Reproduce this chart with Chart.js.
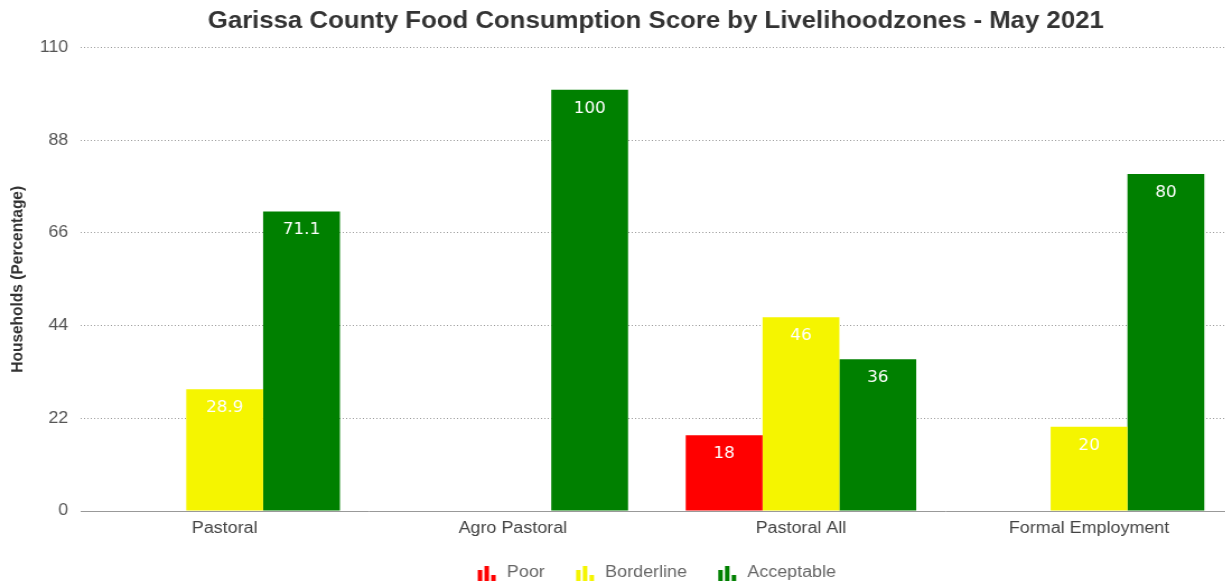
<!DOCTYPE html>
<html>
<head>
<meta charset="utf-8">
<script src="https://cdn.jsdelivr.net/npm/chart.js@4"></script>
<style>
  html, body { margin: 0; padding: 0; background: #fff; overflow: hidden; }
  #wrap {
    width: 1171px; height: 583px; position: relative;
    transform: scaleX(1.12); transform-origin: 0 0;
  }
</style>
</head>
<body>
<div id="wrap"><canvas id="c"></canvas></div>
<script>
// Food consumption score (% of households) per livelihood zone
const categories = ['Pastoral', 'Agro Pastoral', 'Pastoral All', 'Formal Employment'];
const poor = [null, null, 18, null];
const borderline = [28.9, null, 46, 20];
const acceptable = [71.1, 100, 36, 80];
const yTicks = [0, 22, 44, 66, 88, 110];

const colors = { poor: '#ff0000', borderline: '#f5f500', acceptable: '#008000' };
const SANS = '"Liberation Sans", Arial, Helvetica, sans-serif';

// small "bar chart" glyph used as legend marker
function barIcon(color) {
  const c = document.createElement('canvas');
  c.width = 18; c.height = 16;
  const g = c.getContext('2d');
  g.fillStyle = color;
  g.fillRect(1, 5, 4, 11);
  g.fillRect(7, 1, 4, 15);
  g.fillRect(13, 10, 4, 6);
  return c;
}

// white value labels inside the top of each bar
const valueLabels = {
  id: 'valueLabels',
  afterDatasetsDraw(chart) {
    const ctx = chart.ctx;
    ctx.save();
    ctx.font = '15px "DejaVu Sans"';
    ctx.fillStyle = '#ffffff';
    ctx.textAlign = 'center';
    ctx.textBaseline = 'middle';
    chart.data.datasets.forEach((ds, i) => {
      const meta = chart.getDatasetMeta(i);
      meta.data.forEach((bar, j) => {
        const v = ds.data[j];
        if (v === null || v === undefined) return;
        ctx.fillText(String(v), bar.x, bar.y + 19);
      });
    });
    ctx.restore();
  }
};

new Chart(document.getElementById('c'), {
  type: 'bar',
  data: {
    labels: categories,
    datasets: [
      { label: 'Poor', data: poor, backgroundColor: colors.poor, pointStyle: barIcon(colors.poor) },
      { label: 'Borderline', data: borderline, backgroundColor: colors.borderline, pointStyle: barIcon(colors.borderline) },
      { label: 'Acceptable', data: acceptable, backgroundColor: colors.acceptable, pointStyle: barIcon(colors.acceptable) }
    ]
  },
  options: {
    responsive: true,
    maintainAspectRatio: false,
    animation: false,
    layout: { padding: { left: 6, right: 6, top: 0, bottom: -8 } },
    datasets: { bar: { categoryPercentage: 0.8, barPercentage: 1.0, skipNull: false } },
    plugins: {
      title: {
        display: true,
        text: 'Garissa County Food Consumption Score by Livelihoodzones - May 2021',
        color: '#333333',
        font: { family: SANS, size: 23, weight: 'bold' },
        padding: { top: 8, bottom: 12 }
      },
      legend: {
        position: 'bottom',
        labels: {
          usePointStyle: true,
          pointStyleWidth: 20,
          color: '#666666',
          font: { family: SANS, size: 16 },
          padding: 26
        }
      },
      tooltip: { enabled: false }
    },
    scales: {
      x: {
        grid: { display: false, drawTicks: false },
        border: { display: true, color: '#999999', width: 1 },
        afterFit(axis) { axis.height = 28; },
        ticks: {
          color: '#444444',
          padding: 8,
          font: { family: SANS, size: 16 }
        }
      },
      y: {
        min: 0,
        max: 110,
        afterBuildTicks(axis) { axis.ticks = yTicks.map(v => ({ value: v })); },
        afterFit(axis) { axis.width = 66; },
        grid: { color: '#999999', drawTicks: false, lineWidth: 1 },
        border: { display: false, dash: [1, 2] },
        ticks: {
          color: '#555555',
          padding: 11,
          font: { family: SANS, size: 16 }
        },
        title: {
          display: true,
          text: 'Households (Percentage)',
          color: '#333333',
          font: { family: SANS, size: 15.5, weight: 'bold' },
          padding: { top: 0, bottom: 4 }
        }
      },
      // empty right-hand margin axis (no ticks, no lines)
      yMargin: {
        position: 'right',
        min: 0,
        max: 110,
        afterFit(axis) { axis.width = 64; },
        grid: { display: false, drawTicks: false },
        border: { display: false },
        ticks: { display: false }
      }
    }
  },
  plugins: [valueLabels]
});
</script>
</body>
</html>
